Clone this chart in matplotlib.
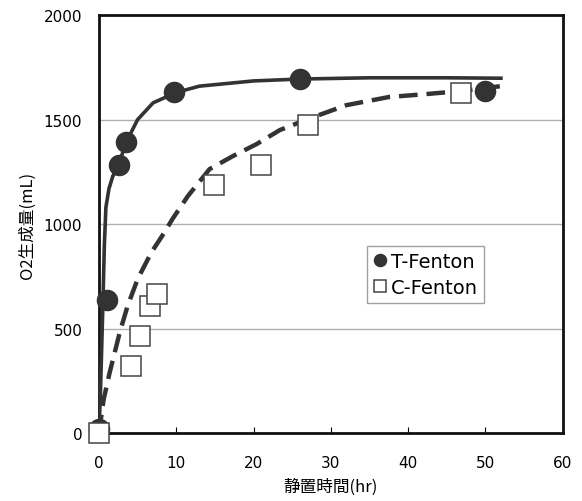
import numpy as np
import matplotlib
matplotlib.use('agg')
import matplotlib.pyplot as plt

plt.rcParams['font.family'] = ['Noto Sans CJK JP', 'DejaVu Sans']

# measured points
t_x = [0, 1.0, 2.6, 3.5, 9.7, 26, 50]
t_y = [20, 635, 1282, 1395, 1632, 1694, 1638]
c_x = [0, 4.1, 5.3, 6.6, 7.5, 14.9, 21, 27, 46.8]
c_y = [0, 320, 466, 610, 668, 1185, 1282, 1474, 1625]

# fitted curves
t_fit_x = [0, 0.2, 0.5, 0.7, 0.9, 1.3, 1.8, 2.6, 3.5, 5, 7, 10, 13, 20, 26, 35, 45, 52]
t_fit_y = [0, 200, 600, 900, 1080, 1170, 1230, 1290, 1390, 1500, 1580, 1630, 1660, 1685, 1694, 1700, 1700, 1698]
c_fit_x = [0, 0.6, 1.4, 2.7, 3.7, 5, 6.8, 8.5, 9.5, 11.5, 14.3, 17.3, 20.4, 23.4, 27, 32, 37.5, 42.3, 46.6, 52]
c_fit_y = [0, 160, 292, 483, 608, 737, 866, 962, 1024, 1134, 1263, 1325, 1383, 1450, 1502, 1569, 1608, 1622, 1636, 1660]

fig = plt.figure(figsize=(5.82, 5.02), dpi=100)
ax = fig.add_axes([0.170, 0.135, 0.797, 0.833])

ax.grid(axis='y', color='#b0b0b0', linewidth=1)
ax.set_axisbelow(True)

ax.plot(t_fit_x, t_fit_y, '-', color='#333333', lw=2.6, zorder=3)
ax.plot(c_fit_x, c_fit_y, '--', color='#333333', lw=3.2, dashes=(4.2, 2.0), zorder=3)

ax.plot(t_x, t_y, 'o', color='#333333', ms=14.5, mec='#333333', label='T-Fenton', zorder=4, clip_on=False)
ax.plot(c_x, c_y, 's', color='white', ms=14, mec='#444444', mew=1.1, label='C-Fenton', zorder=4, clip_on=False)

ax.set_xlim(0, 60)
ax.set_ylim(0, 2000)
ax.set_xticks(np.arange(0, 61, 10))
ax.set_yticks(np.arange(0, 2001, 500))
ax.tick_params(axis='x', direction='in', length=4, labelsize=11, pad=16)
ax.tick_params(axis='y', length=0, labelsize=11, pad=12)
for lab in ax.get_xticklabels() + ax.get_yticklabels():
    lab.set_family('DejaVu Sans')
for s in ax.spines.values():
    s.set_linewidth(2)
    s.set_color('#111111')

ax.set_xlabel('静置時間(hr)', fontsize=12, labelpad=5)
ax.set_ylabel('O2生成量(mL)', fontsize=12, labelpad=6)

leg = ax.legend(loc='upper left', bbox_to_anchor=(0.577, 0.447),
                prop={'family': 'DejaVu Sans', 'size': 14},
                frameon=True, fancybox=False, edgecolor='#888888',
                handletextpad=0.15, handlelength=0.8, borderpad=0.3,
                labelspacing=0.35, markerscale=0.6, borderaxespad=0)
leg.get_frame().set_linewidth(1)

fig.savefig('out.png', dpi=100)
